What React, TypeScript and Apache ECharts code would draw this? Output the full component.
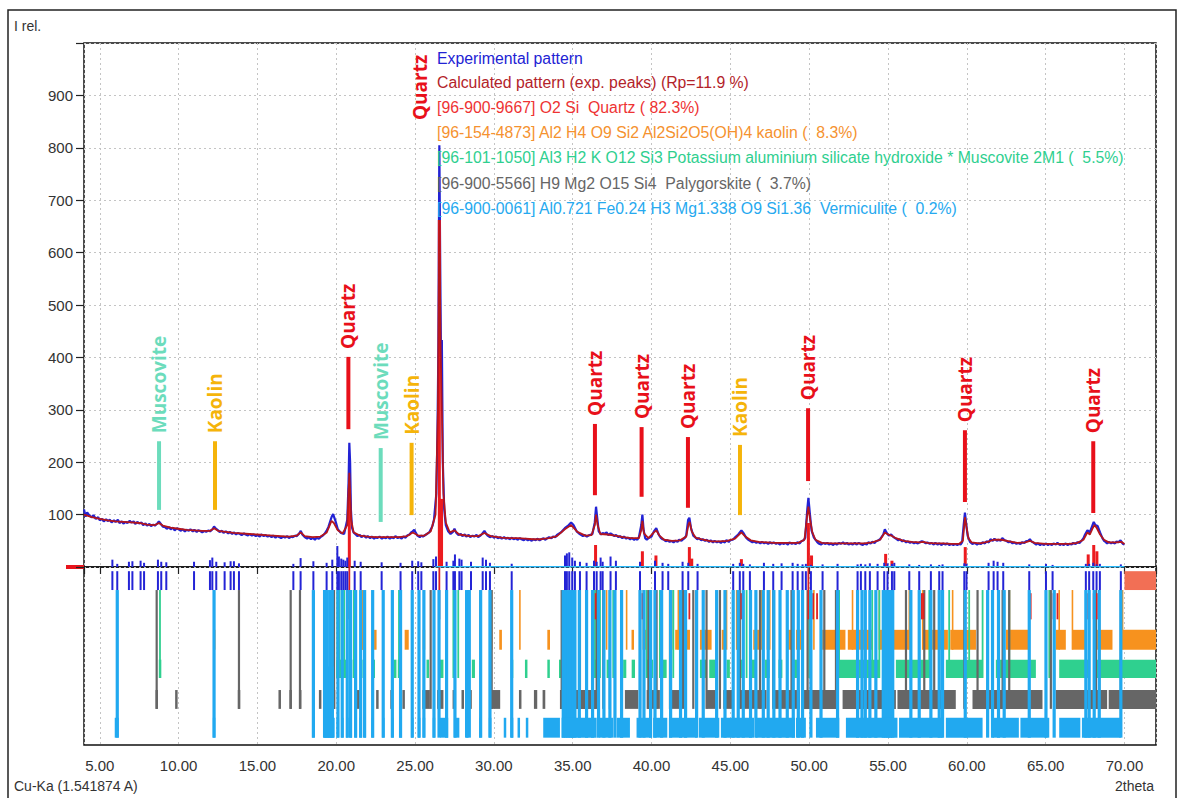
import React, { useEffect, useRef } from 'react';
import * as echarts from 'echarts';

// ---------- data ----------
const expPattern: number[][] = [
[4.0,110],[4.1,96],[4.2,104],[4.35,98],[4.5,95],[4.6,99],[4.75,92],[4.9,95],[5.0,89],[5.15,92],[5.25,87],[5.4,91],[5.5,88],[5.65,90],[5.75,85],[5.9,89],[6.0,86],[6.15,90],[6.25,84],[6.4,87],[6.5,83],[6.65,86],[6.75,84],[6.9,88],[7.0,85],[7.15,87],[7.25,82],[7.4,86],[7.5,83],[7.65,85],[7.75,80],[7.9,83],[8.0,79],[8.15,82],[8.25,78],[8.4,81],[8.5,79],[8.65,83],[8.75,87],[8.85,83],[9.0,77],[9.15,76],[9.25,73],[9.4,76],[9.5,72],[9.65,75],[9.75,70],[9.9,74],[10.0,72],[10.15,69],[10.25,72],[10.4,68],[10.5,71],[10.65,69],[10.75,72],[10.9,68],[11.0,71],[11.15,67],[11.25,70],[11.4,68],[11.5,66],[11.65,69],[11.75,67],[11.9,70],[12.0,68],[12.15,72],[12.25,77],[12.35,74],[12.5,70],[12.6,67],[12.75,69],[12.85,65],[13.0,68],[13.15,64],[13.25,67],[13.4,63],[13.5,66],[13.65,62],[13.75,65],[13.9,63],[14.0,61],[14.15,64],[14.25,62],[14.4,60],[14.5,63],[14.65,60],[14.75,62],[14.9,59],[15.0,61],[15.15,58],[15.25,62],[15.4,59],[15.5,61],[15.65,58],[15.75,60],[15.9,57],[16.0,60],[16.15,56],[16.25,59],[16.4,57],[16.5,55],[16.65,58],[16.75,56],[16.9,59],[17.0,55],[17.15,58],[17.25,57],[17.4,60],[17.5,59],[17.65,64],[17.75,69],[17.85,62],[18.0,57],[18.15,54],[18.25,57],[18.4,53],[18.5,56],[18.65,52],[18.75,56],[18.9,54],[19.0,57],[19.15,60],[19.25,63],[19.4,70],[19.5,76],[19.7,95],[19.8,101],[19.95,88],[20.1,72],[20.3,65],[20.5,63],[20.7,90],[20.78,160],[20.83,237],[20.88,200],[20.93,110],[21.0,75],[21.1,66],[21.2,63],[21.35,59],[21.5,61],[21.6,57],[21.75,60],[21.9,56],[22.0,59],[22.15,55],[22.25,58],[22.4,54],[22.5,57],[22.6,55],[22.75,58],[22.9,54],[23.0,57],[23.15,55],[23.25,58],[23.4,54],[23.5,57],[23.65,55],[23.75,59],[23.9,55],[24.0,57],[24.15,54],[24.25,58],[24.4,56],[24.5,60],[24.65,62],[24.75,66],[24.85,68],[24.95,71],[25.05,65],[25.15,60],[25.3,57],[25.4,60],[25.5,58],[25.65,61],[25.75,63],[25.9,66],[26.0,72],[26.1,78],[26.2,90],[26.35,140],[26.42,250],[26.48,420],[26.54,805],[26.6,560],[26.65,380],[26.7,433],[26.76,200],[26.85,110],[26.95,80],[27.1,68],[27.25,63],[27.4,67],[27.5,73],[27.6,66],[27.75,61],[27.9,63],[28.0,59],[28.15,62],[28.25,58],[28.4,61],[28.5,57],[28.65,60],[28.75,58],[28.9,61],[29.0,57],[29.15,60],[29.25,63],[29.4,69],[29.5,64],[29.6,60],[29.75,57],[29.9,59],[30.0,56],[30.15,58],[30.25,55],[30.4,57],[30.5,54],[30.65,57],[30.75,54],[30.9,56],[31.0,53],[31.15,56],[31.25,53],[31.4,55],[31.5,52],[31.65,55],[31.75,53],[31.9,51],[32.0,54],[32.15,51],[32.25,53],[32.4,50],[32.5,53],[32.65,51],[32.75,54],[32.9,51],[33.0,53],[33.15,55],[33.25,52],[33.4,55],[33.5,57],[33.65,55],[33.75,58],[33.9,57],[34.0,61],[34.25,66],[34.5,74],[34.75,80],[34.9,85],[35.05,80],[35.25,68],[35.4,64],[35.5,62],[35.65,59],[35.75,61],[35.9,58],[36.0,60],[36.25,63],[36.4,85],[36.48,115],[36.55,95],[36.65,68],[36.8,62],[36.9,65],[37.0,63],[37.15,66],[37.25,61],[37.4,64],[37.5,62],[37.65,59],[37.75,61],[37.9,57],[38.0,59],[38.15,55],[38.25,58],[38.4,54],[38.5,56],[38.65,53],[38.75,55],[38.9,52],[39.0,54],[39.1,52],[39.2,57],[39.35,80],[39.42,100],[39.5,70],[39.6,55],[39.7,52],[39.8,55],[40.0,58],[40.15,68],[40.3,74],[40.45,62],[40.6,55],[40.7,53],[40.8,52],[40.9,49],[41.0,51],[41.15,48],[41.25,50],[41.4,47],[41.5,50],[41.65,48],[41.75,52],[41.9,50],[42.0,53],[42.1,55],[42.2,60],[42.32,90],[42.4,94],[42.5,75],[42.65,60],[42.8,56],[42.9,53],[43.0,55],[43.15,51],[43.25,53],[43.4,50],[43.5,52],[43.65,48],[43.75,51],[43.9,47],[44.0,50],[44.15,47],[44.25,49],[44.4,46],[44.5,49],[44.65,47],[44.75,51],[44.9,48],[45.0,51],[45.15,52],[45.25,55],[45.5,62],[45.7,70],[45.85,64],[46.0,56],[46.1,53],[46.25,50],[46.4,47],[46.5,49],[46.65,46],[46.75,48],[46.9,45],[47.0,48],[47.15,45],[47.25,47],[47.4,44],[47.5,47],[47.65,45],[47.75,47],[47.9,44],[48.0,46],[48.15,43],[48.25,46],[48.4,44],[48.5,46],[48.65,43],[48.75,47],[48.9,44],[49.0,46],[49.15,44],[49.25,47],[49.4,45],[49.5,49],[49.65,51],[49.75,56],[49.88,110],[49.95,132],[50.05,100],[50.15,70],[50.3,56],[50.5,48],[50.6,45],[50.75,43],[50.9,46],[51.0,44],[51.15,46],[51.25,43],[51.4,45],[51.5,42],[51.65,45],[51.75,43],[51.9,46],[52.0,44],[52.15,47],[52.25,44],[52.4,46],[52.5,43],[52.65,45],[52.75,43],[52.9,46],[53.0,43],[53.15,46],[53.25,44],[53.4,42],[53.5,45],[53.65,43],[53.75,47],[53.9,45],[54.0,48],[54.15,46],[54.25,49],[54.4,51],[54.5,53],[54.7,62],[54.8,72],[54.9,66],[55.05,60],[55.2,62],[55.35,57],[55.5,54],[55.65,51],[55.75,53],[55.9,49],[56.0,51],[56.15,47],[56.25,49],[56.4,46],[56.5,48],[56.65,45],[56.75,47],[56.9,45],[57.0,47],[57.15,49],[57.25,48],[57.4,45],[57.5,47],[57.65,44],[57.75,46],[57.9,43],[58.0,46],[58.15,43],[58.25,45],[58.4,42],[58.5,45],[58.65,43],[58.75,45],[58.9,42],[59.0,44],[59.15,42],[59.25,44],[59.4,42],[59.5,44],[59.6,43],[59.7,47],[59.8,80],[59.88,104],[59.95,85],[60.05,60],[60.2,48],[60.35,44],[60.5,46],[60.65,43],[60.75,45],[60.9,44],[61.0,47],[61.15,45],[61.25,49],[61.4,47],[61.5,53],[61.65,50],[61.75,54],[61.9,50],[62.0,52],[62.15,50],[62.25,55],[62.4,51],[62.5,50],[62.65,47],[62.75,49],[62.9,45],[63.0,47],[63.15,44],[63.25,46],[63.4,44],[63.5,47],[63.65,46],[63.75,49],[63.9,50],[64.0,53],[64.1,49],[64.25,46],[64.4,43],[64.5,45],[64.65,42],[64.75,44],[64.9,42],[65.0,45],[65.15,42],[65.25,44],[65.4,42],[65.5,45],[65.65,43],[65.75,46],[65.9,42],[66.0,44],[66.15,42],[66.25,45],[66.4,42],[66.5,44],[66.65,43],[66.75,46],[66.9,44],[67.0,47],[67.15,46],[67.25,49],[67.4,55],[67.5,62],[67.65,70],[67.8,66],[67.95,78],[68.05,86],[68.15,80],[68.3,78],[68.45,66],[68.6,55],[68.7,50],[68.8,48],[68.9,45],[69.0,48],[69.15,45],[69.25,47],[69.4,45],[69.5,49],[69.6,47],[69.75,51],[69.85,46],[69.9,44],[70.0,43]
];

const calcPattern: number[][] = [
[4.0,100],[4.5,95],[5.0,92],[5.5,89],[6.0,87],[6.5,86],[7.0,85],[7.5,84],[8.0,81],[8.5,80],[8.75,84],[9.0,79],[9.5,75],[10.0,73],[10.5,71],[11.0,70],[11.5,69],[12.0,69],[12.25,74],[12.5,69],[13.0,67],[13.5,65],[14.0,64],[14.5,63],[15.0,62],[15.5,61],[16.0,60],[16.5,59],[17.0,58],[17.5,60],[17.75,66],[18.0,59],[18.5,57],[19.0,58],[19.4,66],[19.7,88],[19.85,84],[20.1,70],[20.4,64],[20.7,80],[20.83,180],[20.95,90],[21.1,66],[21.5,60],[22.0,58],[22.5,57],[23.0,57],[23.5,57],[24.0,57],[24.5,59],[24.85,66],[25.2,60],[25.6,60],[26.0,68],[26.3,100],[26.45,300],[26.54,662],[26.62,420],[26.7,300],[26.8,140],[26.95,85],[27.2,66],[27.5,70],[27.8,62],[28.5,59],[29.0,59],[29.4,65],[29.8,59],[30.5,56],[31.0,55],[31.5,55],[32.0,54],[32.5,53],[33.0,53],[33.5,55],[34.0,59],[34.5,72],[34.9,80],[35.3,67],[35.8,60],[36.2,61],[36.4,80],[36.48,100],[36.58,80],[36.75,63],[37.2,62],[37.7,60],[38.2,57],[38.7,55],[39.2,55],[39.35,70],[39.42,88],[39.52,64],[39.8,55],[40.15,66],[40.3,70],[40.5,60],[40.8,52],[41.3,50],[41.8,51],[42.2,58],[42.35,82],[42.42,86],[42.55,68],[42.8,56],[43.3,52],[43.8,49],[44.3,49],[44.8,50],[45.3,54],[45.7,66],[45.95,58],[46.3,51],[46.8,48],[47.3,47],[47.8,46],[48.3,46],[48.8,46],[49.3,46],[49.7,52],[49.88,100],[49.95,115],[50.05,92],[50.2,66],[50.4,52],[50.8,46],[51.5,45],[52.0,45],[52.5,45],[53.0,45],[53.5,45],[54.0,47],[54.5,52],[54.8,66],[54.95,63],[55.2,60],[55.5,55],[56.0,50],[56.5,48],[57.0,47],[57.25,48],[57.5,46],[58.0,45],[58.5,45],[59.0,44],[59.5,44],[59.75,50],[59.88,95],[59.97,78],[60.1,55],[60.3,47],[60.8,45],[61.3,48],[61.7,52],[62.2,52],[62.7,49],[63.2,46],[63.7,47],[64.0,50],[64.3,46],[65.0,44],[65.5,44],[66.0,44],[66.5,44],[67.0,46],[67.4,52],[67.65,66],[67.8,62],[68.0,75],[68.1,80],[68.25,74],[68.45,62],[68.7,52],[69.0,47],[69.5,47],[69.8,48],[70.0,44]
];

// Quartz phase profile sticks above the zero line [2theta, intensity]
const quartzProfile: number[][] = [
[20.83,150],[26.54,662],[26.68,130],[36.45,42],[39.42,30],[40.28,22],[42.4,38],[42.55,16],[45.7,15],[49.95,84],[50.15,22],[54.85,25],[55.25,12],[59.9,38],[67.7,24],[68.05,42],[68.25,30]
];

// experimental peak list [2theta, stick height]
const expPeaks: number[][] = [
[5.80,14],[6.11,6],[6.85,10],[7.07,11],[7.59,12],[7.81,8],[8.69,14],[8.90,10],[9.22,9],[10.98,10],[11.99,13],[12.14,18],[12.39,10],[12.92,9],[13.30,11],[13.51,11],[13.83,7],[17.28,6],[17.74,17],[18.55,11],[19.39,8],[19.75,14],[20.07,40],[20.17,20],[20.32,16],[20.45,14],[20.58,12],[20.70,18],[21.17,12],[21.55,10],[22.88,9],[24.08,8],[24.82,12],[25.20,11],[25.40,9],[26.16,15],[26.33,20],[27.0,10],[27.43,12],[27.53,24],[27.81,16],[27.95,14],[28.55,10],[29.29,18],[29.5,14],[29.75,8],[31.13,6],[34.51,22],[34.63,26],[34.78,28],[34.97,18],[35.14,12],[35.46,10],[35.88,8],[36.35,12],[36.52,10],[36.77,18],[36.9,10],[37.4,20],[37.74,12],[39.27,10],[40.22,12],[40.7,8],[41.06,6],[41.97,10],[42.33,8],[42.92,6],[45.18,6],[45.6,8],[45.82,6],[46.24,5],[47.13,8],[47.72,6],[48.25,7],[48.95,8],[49.27,6],[49.58,5],[49.79,6],[50.11,4],[50.85,5],[51.8,6],[53.07,5],[53.28,6],[53.56,5],[53.85,7],[54.34,6],[54.76,8],[54.97,7],[55.25,6],[55.4,8],[56.35,5],[56.98,4],[57.72,5],[58.25,4],[58.46,5],[59.84,7],[59.98,6],[61.38,8],[61.7,12],[61.95,10],[62.31,8],[63.96,5],[65.02,6],[65.44,4],[67.55,6],[67.76,6],[68.02,8],[68.23,5],[68.44,6],[69.77,5]
];

// quartz reflection markers [2theta, top of marker]
const quartzMarks: number[][] = [
[20.83,0],[26.54,0],[36.45,-50],[39.42,-50],[40.28,-50],[42.4,-50],[45.7,-50],[49.95,0],[50.25,-50],[50.5,-50],[54.85,-50],[55.25,-50],[57.15,-50],[57.25,-50],[59.9,-50],[63.96,-50],[64.05,-50],[65.5,-50],[65.75,-50],[67.7,-50],[68.05,-50],[68.25,-50]
];

const kaolinSticks = [12.25,21.23,21.65,25.56,29.12,29.86,31.65,36.52,37.15,38.42,39.48,39.9,41.38,41.7,44.76,45.4,46.98,47.5,50.3,52.75,54.45,56.35,57.2,59.1,62.7,63.96,65.86,66.7,69.88];
const kaolinRow = [[12.22,12.3],[21.2,21.27],[21.62,21.7],[22.44,22.52],[24.34,24.6],[25.53,25.6],[30.34,30.51],[33.39,33.56],[38.74,38.88],[39.52,39.69],[41.5,41.7],[42.22,42.44],[43.07,43.81],[44.45,44.66],[45.4,45.6],[46.45,46.9],[47.3,47.5],[48.55,48.95],[49.16,49.48],[50.75,52.3],[52.45,54.02],[54.45,56.35],[57.19,58.8],[58.95,60.58],[62.48,63.96],[65.65,66.28],[66.7,67.55],[68.19,69.24],[69.88,72.0]];

const muscoviteSticks = [8.82,20.07,20.2,20.35,20.5,20.7,21.12,23.98,27.43,27.74,36.41,36.73,37.57,39.69,40.53,41.38,41.8,45.18,46.03,50.0,51.9,54.0,54.45,56.45,57.62,58.88,60.15,61.0,62.69,65.23,67.76];
const muscoviteRow = [[8.79,8.86],[20.0,20.75],[21.08,21.16],[21.7,21.78],[22.34,22.42],[23.7,23.78],[23.95,24.02],[25.77,25.84],[26.58,26.8],[28.6,28.8],[31.1,31.2],[32.0,32.1],[33.42,33.52],[34.16,34.26],[36.38,36.6],[37.15,37.35],[38.2,38.4],[38.74,38.95],[39.69,40.1],[40.64,40.96],[41.8,42.1],[43.07,43.49],[43.66,44.13],[44.76,44.97],[45.6,45.82],[46.35,46.66],[47.2,47.5],[48.05,48.3],[48.95,49.3],[51.9,54.45],[55.5,57.6],[58.67,61.0],[61.84,64.38],[65.86,67.76],[68.19,72.0]];

const palygorskiteSticks = [8.61,13.83,17.11,17.7,19.86,25.99,28.38,29.86,34.3,34.93,35.46,36.52,36.94,37.36,39.27,39.8,40.32,41.17,42.0,42.65,43.49,44.34,45.6,46.88,47.72,48.88,49.9,50.96,51.7,55.08,55.29,56.14,57.3,57.93,59.84,60.68,62.27,62.69,65.33,65.54,68.19,68.4,69.77];
const palygorskiteRow = [[8.58,8.65],[9.82,9.9],[13.8,13.87],[16.38,16.45],[17.08,17.14],[17.65,17.78],[18.94,19.02],[19.82,19.9],[21.28,21.5],[22.57,22.65],[23.47,23.55],[24.24,24.31],[25.46,25.94],[26.4,26.8],[27.38,27.6],[27.95,28.1],[28.38,28.6],[29.75,30.4],[31.6,31.74],[32.54,32.75],[33.09,33.26],[34.19,36.52],[38.31,39.16],[39.69,40.53],[41.17,41.8],[43.49,44.13],[44.55,45.18],[45.6,47.3],[47.72,49.41],[49.5,51.7],[52.12,55.5],[55.6,59.3],[60.36,64.8],[65.65,68.9],[69.0,72.0]];

const vermiculiteSticks = [6.11,12.25,18.55,19.26,19.43,19.6,19.75,20.11,20.38,20.7,20.91,21.23,21.55,21.8,22.31,22.98,23.56,24.08,24.82,25.25,25.56,26.2,26.52,27.0,27.53,28.27,28.44,29.16,29.75,31.13,34.4,34.55,34.7,34.85,35.0,35.14,35.42,35.88,36.26,36.64,36.98,37.36,37.68,38.1,39.27,39.52,39.94,40.22,40.64,41.21,41.84,42.16,42.86,43.28,44.13,44.66,45.18,45.5,45.82,46.28,46.62,47.09,47.4,47.76,48.15,48.61,48.99,49.31,49.58,50.11,50.75,51.8,53.07,53.35,53.56,53.85,54.23,54.7,54.85,55.0,55.15,55.3,56.45,56.98,57.72,58.25,58.46,59.9,61.32,61.63,62.01,62.37,63.96,65.02,65.54,67.55,67.76,68.08,68.4,69.77];
const vermiculiteRow = [[5.95,6.2],[12.2,12.3],[18.5,18.6],[19.2,19.9],[20.05,20.15],[20.35,20.42],[20.65,20.75],[20.88,20.95],[21.2,21.27],[21.5,21.6],[21.78,21.84],[22.28,22.34],[22.95,23.02],[23.53,23.6],[24.05,24.12],[24.78,24.86],[25.22,25.3],[25.53,25.6],[26.15,26.25],[26.58,27.1],[27.47,27.81],[28.23,28.38],[29.1,29.2],[29.72,29.8],[30.64,30.77],[31.1,31.2],[31.51,31.65],[32.03,32.18],[33.13,34.19],[34.3,36.52],[36.69,37.57],[37.79,38.63],[39.05,40.0],[40.1,41.0],[41.1,42.9],[43.0,44.3],[44.4,46.5],[46.6,49.1],[49.16,49.79],[50.43,51.91],[52.33,55.6],[55.7,58.46],[58.67,61.0],[61.63,63.3],[63.4,65.23],[65.86,67.2],[67.3,69.77]];
const vermiculiteBlocks = [[19.25,19.85,-190]];

const unmatchedRange = [[70.0,72.0]];

const annotLabels = ['Muscovite','Kaolin','Quartz','Muscovite','Kaolin','Quartz','Quartz','Quartz','Quartz','Kaolin','Quartz','Quartz','Quartz'];
const annotX = [8.76,12.31,20.77,22.82,24.78,25.31,36.41,39.37,42.31,45.61,49.93,59.88,68.02];
const annotBarTop = [240,240,401,227,237,853,273,267,248,233,303,261,240];
const annotBarBottom = [109,109,263,86,99,853,137,134,113,99,164,124,103];

const legendLines = [
  'Experimental pattern',
  'Calculated pattern (exp. peaks) (Rp=11.9 %)',
  '[96-900-9667] O2 Si  Quartz ( 82.3%)',
  '[96-154-4873] Al2 H4 O9 Si2 Al2Si2O5(OH)4 kaolin (  8.3%)',
  '[96-101-1050] Al3 H2 K O12 Si3 Potassium aluminium silicate hydroxide * Muscovite 2M1 (  5.5%)',
  '[96-900-5566] H9 Mg2 O15 Si4  Palygorskite (  3.7%)',
  '[96-900-0061] Al0.721 Fe0.24 H3 Mg1.338 O9 Si1.36  Vermiculite (  0.2%)',
];
const legendColors = ['#2222d4','#b3232a','#ee3333','#f5922f','#2fcf8f','#666666','#26a9ef'];

// ---------- styling ----------
const C_EXP = '#2222d4';
const C_CALC = '#b5161c';
const C_QZ = '#ec1b1f';
const PHASE_COLORS = ['#2424d6', '#dd2222', '#f7921e', '#2fd08f', '#666666', '#21a9f0', '#f26f55', '#1eb2f5'];
const ANNOT_COLORS: Record<string, string> = { Quartz: '#e8101a', Muscovite: '#6cdcbc', Kaolin: '#f5b40a' };
const ROW = {
  exp: [-8, -44], qz: [-50, -100], kaol: [-120, -158], musc: [-177, -212], paly: [-235, -271], verm: [-288, -326],
};
const FONT = '"Liberation Sans", Arial, sans-serif';

// build lower-panel items: [x0, x1, yTop, yBottom, colorIndex, minWidthPx]
function buildLower(): number[][] {
  const items: number[][] = [];
  const addPhase = (sticks: number[], row: number[][], r: number[], ci: number, sw: number, rw: number) => {
    sticks.forEach((x) => items.push([x, x, ROW.exp[1], r[1], ci, sw]));
    row.forEach(([a, b]) => items.push([a, b, r[0], r[1], ci, rw]));
  };
  addPhase(kaolinSticks, kaolinRow, ROW.kaol, 2, 1.6, 2.5);
  addPhase(muscoviteSticks, muscoviteRow, ROW.musc, 3, 1.8, 2.5);
  addPhase(palygorskiteSticks, palygorskiteRow, ROW.paly, 4, 2.2, 2.5);
  quartzMarks.forEach(([x, t]) => items.push([x, x, Math.min(t, 0), ROW.qz[1], 1, 1.8]));
  vermiculiteBlocks.forEach(([a, b, t]) => items.push([a, b, t, ROW.verm[1], 7, 2]));
  addPhase(vermiculiteSticks, vermiculiteRow, ROW.verm, 5, 3.2, 2.5);
  expPeaks.forEach(([x]) => items.push([x, x, ROW.exp[0], ROW.exp[1], 0, 2]));
  unmatchedRange.forEach(([a, b]) => items.push([a, b, ROW.exp[0], ROW.exp[1], 6, 2]));
  return items;
}

export default function App() {
  const ref = useRef<HTMLDivElement>(null);
  useEffect(() => {
    document.body.style.margin = '0';
    const chart = echarts.init(ref.current!, null, { renderer: 'svg' });
    const gridLine = { show: true, lineStyle: { color: '#c4c4c4', type: [2, 3] as any, width: 1 } };
    const xBase = { type: 'value', min: 4, max: 72, splitNumber: 14, splitLine: gridLine };
    const option: any = {
      animation: false,
      backgroundColor: '#ffffff',
      grid: [
        { left: 84, top: 43, width: 1072, height: 524, show: true, borderColor: '#111', borderWidth: 1.5, backgroundColor: 'transparent' },
        { left: 84, top: 567, width: 1072, height: 178, show: true, borderColor: '#111', borderWidth: 1.5, backgroundColor: 'transparent' },
      ],
      xAxis: [
        { ...xBase, gridIndex: 0, axisLabel: { show: false }, axisTick: { show: false }, axisLine: { show: false } },
        {
          ...xBase, gridIndex: 1,
          axisLine: { show: false },
          axisTick: { show: true, length: 7, inside: false, lineStyle: { color: '#222', width: 1.2 } },
          axisLabel: {
            show: true, margin: 13, fontSize: 15, color: '#333', fontFamily: FONT,
            formatter: (v: number) => (Math.abs(v % 5) < 1e-6 ? v.toFixed(2) : ''),
          },
        },
      ],
      yAxis: [
        {
          type: 'value', gridIndex: 0, min: 0, max: 1000, interval: 100,
          splitLine: gridLine, axisLine: { show: false },
          axisTick: { show: true, length: 8, inside: false, lineStyle: { color: '#222', width: 1.2 } },
          axisLabel: {
            margin: 11, fontSize: 15, color: '#333', fontFamily: FONT,
            formatter: (v: number) => (v <= 0 || v >= 1000 ? '' : String(v)),
          },
        },
        { type: 'value', gridIndex: 1, min: -340, max: 0, splitLine: { show: false }, axisLabel: { show: false }, axisTick: { show: false }, axisLine: { show: false } },
      ],
      series: [
        {
          type: 'line', name: 'exp', xAxisIndex: 0, yAxisIndex: 0, data: expPattern, showSymbol: false,
          lineStyle: { color: C_EXP, width: 2.2 }, z: 2,
        },
        {
          type: 'custom', name: 'qzprofile', xAxisIndex: 0, yAxisIndex: 0, data: quartzProfile, z: 3,
          encode: { x: 0, y: 1 },
          renderItem: (_p: any, api: any) => {
            const a = api.coord([api.value(0), 0]);
            const b = api.coord([api.value(0), api.value(1)]);
            return { type: 'rect', shape: { x: a[0] - 1.5, y: b[1], width: 3, height: a[1] - b[1] }, style: { fill: C_QZ } };
          },
        },
        {
          type: 'line', name: 'calc', xAxisIndex: 0, yAxisIndex: 0, data: calcPattern, showSymbol: false,
          lineStyle: { color: C_CALC, width: 1.8 }, z: 4,
        },
        {
          type: 'custom', name: 'expsticks', xAxisIndex: 0, yAxisIndex: 0, data: expPeaks, z: 5,
          encode: { x: 0, y: 1 },
          renderItem: (_p: any, api: any) => {
            const a = api.coord([api.value(0), 0]);
            const b = api.coord([api.value(0), api.value(1)]);
            return { type: 'rect', shape: { x: a[0] - 1, y: b[1], width: 2, height: a[1] - b[1] }, style: { fill: PHASE_COLORS[0] } };
          },
        },
        {
          type: 'line', name: 'zero', xAxisIndex: 0, yAxisIndex: 0, data: [[26.3, 0.6], [70, 0.6]], showSymbol: false,
          lineStyle: { color: '#29b6f6', width: 1.6 }, z: 6,
        },
        {
          type: 'custom', name: 'lower', xAxisIndex: 1, yAxisIndex: 1, data: buildLower(), z: 2,
          encode: { x: [0, 1], y: [2, 3] },
          renderItem: (_p: any, api: any) => {
            const x0 = api.value(0), x1 = api.value(1), y0 = api.value(2), y1 = api.value(3);
            const col = PHASE_COLORS[api.value(4)], mw = api.value(5);
            const p0 = api.coord([x0, y0]);
            const p1 = api.coord([x1, y1]);
            let left = p0[0];
            let w = p1[0] - p0[0];
            if (w < mw) { left = (p0[0] + p1[0]) / 2 - mw / 2; w = mw; }
            return { type: 'rect', shape: { x: left, y: p0[1], width: w, height: p1[1] - p0[1] }, style: { fill: col } };
          },
        },
        {
          type: 'custom', name: 'annot', xAxisIndex: 0, yAxisIndex: 0, z: 10,
          data: annotX.map((x, i) => [x, annotBarTop[i], annotBarBottom[i], i]),
          encode: { x: 0, y: [1, 2] },
          renderItem: (_p: any, api: any) => {
            const i = api.value(3);
            const label = annotLabels[i];
            const col = ANNOT_COLORS[label];
            const top = api.coord([api.value(0), api.value(1)]);
            const bot = api.coord([api.value(0), api.value(2)]);
            const hasBar = bot[1] - top[1] > 1;
            const children: any[] = [];
            if (hasBar) children.push({ type: 'rect', shape: { x: top[0] - 2, y: top[1], width: 4, height: bot[1] - top[1] }, style: { fill: col } });
            children.push({
              type: 'text', x: top[0], y: top[1] - (hasBar ? 8 : 0), rotation: Math.PI / 2,
              style: { text: label, fill: col, font: 'bold 19px "Open Sans", sans-serif', align: 'left', verticalAlign: 'middle' },
            });
            return { type: 'group', children };
          },
        },
      ],
      graphic: [
        { type: 'rect', shape: { x: 8, y: 10, width: 1168, height: 800 }, style: { fill: 'none', stroke: '#222', lineWidth: 1.5 }, silent: true },
        { type: 'rect', shape: { x: 66, y: 565, width: 18, height: 4 }, style: { fill: '#e8141c' } },
        { type: 'text', x: 14, y: 26, style: { text: 'I rel.', fill: '#333', font: `14px ${FONT}`, verticalAlign: 'middle', textVerticalAlign: 'middle' } },
        { type: 'text', x: 14, y: 786, style: { text: 'Cu-Ka (1.541874 A)', fill: '#333', font: `14px ${FONT}`, verticalAlign: 'middle', textVerticalAlign: 'middle' } },
        { type: 'text', x: 1154, y: 786, style: { text: '2theta', fill: '#333', font: `14px ${FONT}`, align: 'right', textAlign: 'right', verticalAlign: 'middle', textVerticalAlign: 'middle' } },
        ...legendLines.map((t, i) => ({
          type: 'text', x: 437, y: [58, 82, 107, 132, 157, 183, 208][i], z: 20,
          style: { text: t, fill: legendColors[i], font: `15.8px ${FONT}`, verticalAlign: 'middle', textVerticalAlign: 'middle' },
        })),
      ],
    };
    chart.setOption(option);
    return () => chart.dispose();
  }, []);
  return <div ref={ref} style={{ width: 1184, height: 798 }} />;
}
